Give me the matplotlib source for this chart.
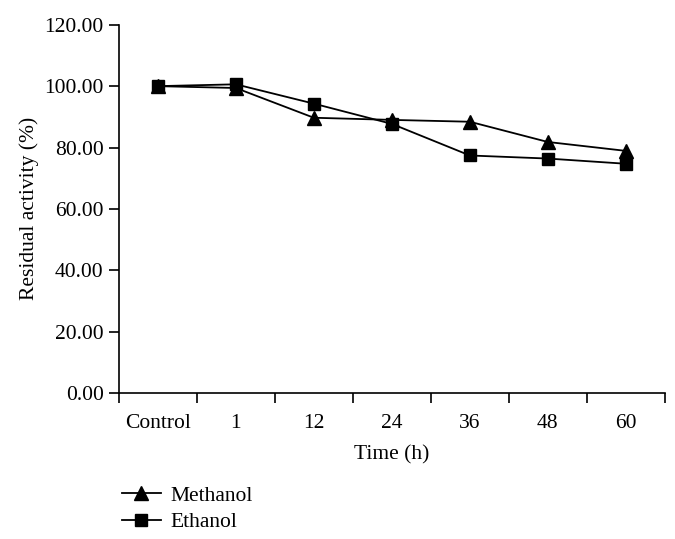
import matplotlib.pyplot as plt
import numpy as np

plt.rcParams['font.family'] = ['Liberation Serif', 'DejaVu Serif']

categories = ["Control", "1", "12", "24", "36", "48", "60"]
methanol = [100.0, 99.4, 89.7, 89.0, 88.4, 81.8, 78.9]
ethanol = [100.0, 100.6, 94.3, 87.7, 77.4, 76.4, 74.7]

fig = plt.figure(figsize=(6.75, 5.39), dpi=100)
ax = fig.add_axes([0.176, 0.271, 0.809, 0.683])

x = np.arange(len(categories))
ax.plot(x, methanol, color="black", lw=1.3, marker="^", ms=9.5, label="Methanol")
ax.plot(x, ethanol, color="black", lw=1.3, marker="s", ms=9, label="Ethanol")

ax.set_xlim(-0.5, len(categories) - 0.5)
ax.set_ylim(0, 120)
ax.set_yticks(np.arange(0, 121, 20))
ax.set_yticklabels([f"{v:.2f}" for v in np.arange(0, 121, 20)])

# labels at category centres, tick marks on the boundaries
ax.set_xticks(x)
ax.set_xticklabels(categories)
ax.tick_params(axis="x", which="major", length=0, pad=15)
ax.set_xticks(np.arange(-0.5, len(categories)), minor=True)
ax.tick_params(axis="x", which="minor", length=7, width=1.2, direction="out")
ax.tick_params(axis="y", length=7, width=1.2, direction="out", pad=4)
ax.tick_params(labelsize=15.5)

for s in ["top", "right"]:
    ax.spines[s].set_visible(False)
for s in ["left", "bottom"]:
    ax.spines[s].set_linewidth(1.2)

ax.set_xlabel("Time (h)", fontsize=15.5, labelpad=9)
ax.set_ylabel("Residual activity (%)", fontsize=15.5, labelpad=4)

fig.legend(loc="upper left", bbox_to_anchor=(0.168, 0.115), frameon=False,
           fontsize=15.5, handlelength=1.8, handletextpad=0.45, labelspacing=0.3,
           borderaxespad=0)

fig.savefig("out.png", dpi=100)
